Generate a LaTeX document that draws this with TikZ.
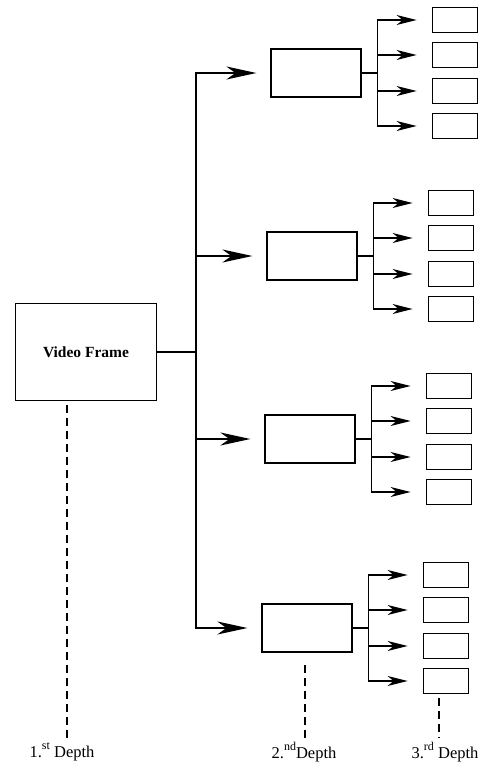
\documentclass[tikz,border=0pt]{standalone}
\usepackage{fontspec}
\setmainfont{Liberation Serif}
\usetikzlibrary{arrows.meta,positioning}
\newcommand{\ord}[1]{\raisebox{1.1ex}{\fontsize{12}{12}\selectfont #1}}

\begin{document}
\begin{tikzpicture}[
  x=1pt, y=-1pt,
  frm/.style={draw, line width=1.2pt, minimum width=141pt, minimum height=97pt, font=\fontsize{15.5}{18}\selectfont\bfseries},
  seg/.style={draw, line width=1.2pt, minimum width=90pt, minimum height=48pt},
  sub/.style={draw, line width=1.1pt, minimum width=45pt, minimum height=25pt},
  arr/.style={line width=1.8pt, -{Stealth[length=30pt, width=13pt, inset=9pt]}, shorten >=14pt},
  sarr/.style={line width=1.4pt, -{Stealth[length=20pt, width=10pt, inset=6pt]}, shorten >=15pt},
  dsh/.style={line width=1.3pt, dash pattern=on 8pt off 5pt},
  lbl/.style={font=\fontsize{16.5}{19}\selectfont}
]
\useasboundingbox (0,0) rectangle (486,772);
\node[frm] (vf) at (86,352) {Video Frame};
\coordinate (jn) at (196,352);
\node[seg] (s1) at (316,73) {};
\node[seg] (s2) at (312,256) {};
\node[seg] (s3) at (310,439) {};
\node[seg] (s4) at (307,628) {};
\draw[line width=1.8pt] (vf.east) -- (jn);
\foreach \i in {1,...,4} \draw[arr] (jn) |- (s\i.west);
% third depth
\foreach \i in {1,...,4} {
  \draw[line width=1.2pt] (s\i.east) -- ++(16,0) coordinate (k\i);
  \foreach \j/\dy in {a/53,b/18,c/-18,d/-53} {
    \node[sub, right=70pt of s\i.east, yshift=\dy pt] (t\i\j) {};
    \draw[sarr] (k\i) |- (t\i\j.west);
  }
}
% depth labels
\node[lbl] (l1) at (62,752) {1.\ord{st} Depth};
\node[lbl] (l2) at (304,752) {2.\ord{nd}Depth};
\node[lbl] (l3) at (445,752) {3.\ord{rd} Depth};
\coordinate (d1) at (67,405);
\coordinate (d2) at (305,665);
\coordinate (d3) at (439,698);
\foreach \i in {1,2,3} \draw[dsh] (d\i) -- (d\i |- l\i.north);
\end{tikzpicture}
\end{document}
